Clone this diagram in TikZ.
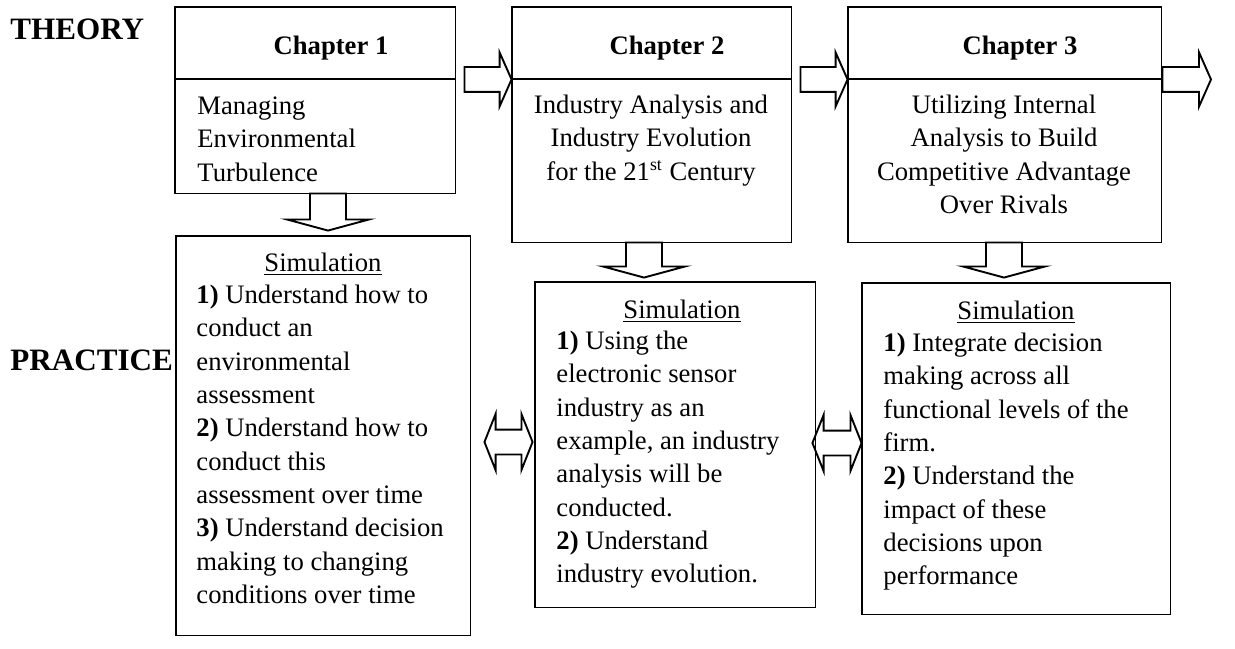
\documentclass[tikz,border=0pt]{standalone}
\usepackage{fontspec}
\setmainfont{Liberation Serif}
\usetikzlibrary{calc,fit}
\begin{document}
\begin{tikzpicture}[x=0.45pt,y=-0.45pt,
  every node/.style={inner sep=0pt},
  frame/.style={draw, line width=0.85pt, inner sep=0pt},
  txt/.style={font=\fontsize{12}{15}\selectfont},
  head/.style={font=\fontsize{12}{15}\selectfont\bfseries, anchor=base},
  side/.style={font=\fontsize{14}{17}\selectfont\bfseries, anchor=base west},
  blockshape/.style={draw, fill=white, line width=0.85pt, line join=miter},
  % right-pointing block arrow
  harrow/.style={blockshape, to path={let \p1=(\tikztostart), \p2=(\tikztotarget) in
     (\x1,\y1+5.6pt) -- (\x2-5.4pt,\y1+5.6pt) -- (\x2-5.4pt,\y1+12.2pt) -- (\x2,\y1)
     -- (\x2-5.4pt,\y1-12.2pt) -- (\x2-5.4pt,\y1-5.6pt) -- (\x1,\y1-5.6pt) -- cycle}},
  % downward block arrow
  varrow/.style={blockshape, to path={let \p1=(\tikztostart), \p2=(\tikztotarget) in
     (\x1-8.1pt,\y1) -- (\x1-8.1pt,\y2+5pt) -- (\x1-18.5pt,\y2+5pt) -- (\x1,\y2)
     -- (\x1+18.5pt,\y2+5pt) -- (\x1+8.1pt,\y2+5pt) -- (\x1+8.1pt,\y1) -- cycle}},
  % two-headed horizontal block arrow
  darrow/.style={blockshape, to path={let \p1=(\tikztostart), \p2=(\tikztotarget) in
     (\x1,\y1) -- (\x1+5pt,\y1+12.6pt) -- (\x1+5pt,\y1+5.6pt) -- (\x2-5pt,\y1+5.6pt)
     -- (\x2-5pt,\y1+12.6pt) -- (\x2,\y1) -- (\x2-5pt,\y1-12.6pt) -- (\x2-5pt,\y1-5.6pt)
     -- (\x1+5pt,\y1-5.6pt) -- (\x1+5pt,\y1-12.6pt) -- cycle}}
]
\useasboundingbox (0,0) rectangle (1235,648);

% row labels
\node[side] (theory) at (10,39) {THEORY};
\node[side] (practice) at (10,370) {PRACTICE};

% frames (invisible placement first, arrows drawn below, frames stroked last)
\path
  node[fit={(175,7) (455,79)}] (ch1h) {}
  node[fit={(175,79) (455,193)}] (ch1b) {}
  node[fit={(512,7) (791,79)}] (ch2h) {}
  node[fit={(512,79) (791,242)}] (ch2b) {}
  node[fit={(848,7) (1161,79)}] (ch3h) {}
  node[fit={(848,79) (1161,242)}] (ch3b) {}
  node[fit={(176,236) (470,635)}] (sim1) {}
  node[fit={(535,282) (815,607)}] (sim2) {}
  node[fit={(862,283) (1170,614)}] (sim3) {};
\coordinate (next) at (1211,79);

% block arrows between chapters
\draw[harrow] ($(ch1h.south east)+(9,0)$) to (ch2h.south west);
\draw[harrow] ($(ch2h.south east)+(9,0)$) to (ch3h.south west);
\draw[harrow] ($(ch3h.south east)+(1,0)$) to (next);

% block arrows from chapters to simulations
\draw[varrow] ($(ch1b.south)+(13,0)$) to ($(sim1.north)+(5,-5)$);
\draw[varrow] ($(ch2b.south)+(-7.5,0)$) to ($(sim2.north)+(-31,-4)$);
\draw[varrow] ($(ch3b.south)+(-0.5,0)$) to ($(sim3.north)+(-12,-5)$);

% two-headed arrows between simulations
\draw[darrow] ($(sim1.east)+(14,6.5)$) to ($(sim2.west)+(-2,0)$);
\draw[darrow] ($(sim2.east)+(-3,-1.5)$) to (sim3.west);

% frames
\foreach \n in {ch1h,ch1b,ch2h,ch2b,ch3h,ch3b,sim1,sim2,sim3}
  \draw[line width=0.85pt] (\n.north west) rectangle (\n.south east);

% chapter headings
\node[head] (t1) at (331,54) {Chapter 1};
\node[head] (t2) at (667,54) {Chapter 2};
\node[head] (t3) at (1020,54) {Chapter 3};

% chapter titles
\node[txt, align=left, anchor=north west] (b1) at (197,90.7)
  {\strut Managing\\Environmental\\Turbulence};
\node[txt, align=center, anchor=north] (b2) at (651,89.7)
  {\strut Industry Analysis and\\Industry Evolution\\for the 21\textsuperscript{st} Century};
\node[txt, align=center, anchor=north] (b3) at (1004,89.7)
  {\strut Utilizing Internal\\Analysis to Build\\Competitive Advantage\\Over Rivals};

% simulation boxes
\node[txt, anchor=base] (st1) at (323,271) {\underline{Simulation}};
\node[txt, align=left, anchor=north west] (s1) at (196,279.7)
  {\strut\textbf{1)} Understand how to\\conduct an\\environmental\\assessment\\
   \textbf{2)} Understand how to\\conduct this\\assessment over time\\
   \textbf{3)} Understand decision\\making to changing\\conditions over time};

\node[txt, anchor=base] (st2) at (682,318) {\underline{Simulation}};
\node[txt, align=left, anchor=north west] (s2) at (556,325.7)
  {\strut\textbf{1)} Using the\\electronic sensor\\industry as an\\example, an industry\\
   analysis will be\\conducted.\\\textbf{2)} Understand\\industry evolution.};

\node[txt, anchor=base] (st3) at (1016,319) {\underline{Simulation}};
\node[txt, align=left, anchor=north west] (s3) at (883,327.7)
  {\strut\textbf{1)} Integrate decision\\making across all\\functional levels of the\\firm.\\
   \textbf{2)} Understand the\\impact of these\\decisions upon\\performance};
\end{tikzpicture}
\end{document}
